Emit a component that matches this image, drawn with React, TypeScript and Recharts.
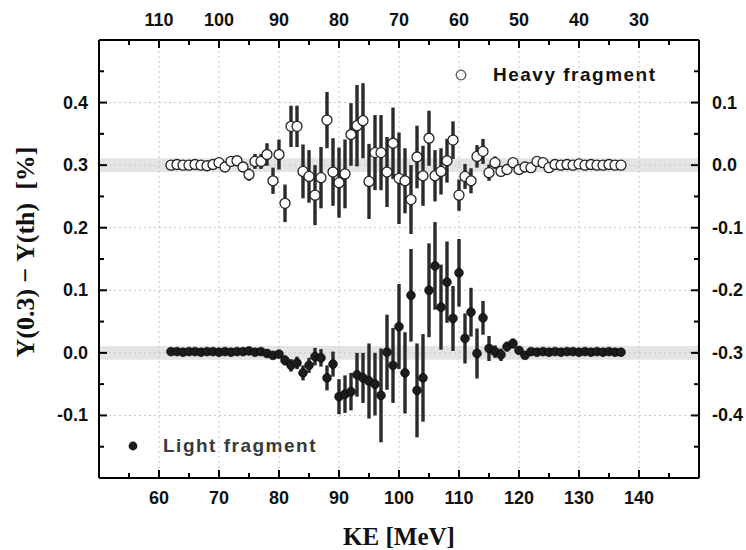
import React from 'react';
import { ScatterChart, Scatter, XAxis, YAxis, ErrorBar, ReferenceLine, ReferenceArea } from 'recharts';

const keValues = [62, 63, 64, 65, 66, 67, 68, 69, 70, 71, 72, 73, 74, 75, 76, 77, 78, 79, 80, 81, 82, 83, 84, 85, 86, 87, 88, 89, 90, 91, 92, 93, 94, 95, 96, 97, 98, 99, 100, 101, 102, 103, 104, 105, 106, 107, 108, 109, 110, 111, 112, 113, 114, 115, 116, 117, 118, 119, 120, 121, 122, 123, 124, 125, 126, 127, 128, 129, 130, 131, 132, 133, 134, 135, 136, 137];

const heavyValues = [0.300, 0.301, 0.300, 0.300, 0.301, 0.300, 0.299, 0.301, 0.304, 0.297, 0.306, 0.307, 0.297, 0.285, 0.306, 0.306, 0.317, 0.275, 0.317, 0.239, 0.362, 0.362, 0.290, 0.282, 0.252, 0.280, 0.372, 0.289, 0.272, 0.286, 0.349, 0.363, 0.371, 0.274, 0.320, 0.320, 0.289, 0.335, 0.279, 0.275, 0.245, 0.313, 0.283, 0.343, 0.283, 0.290, 0.307, 0.340, 0.252, 0.282, 0.275, 0.314, 0.322, 0.288, 0.304, 0.290, 0.293, 0.304, 0.293, 0.297, 0.296, 0.306, 0.304, 0.296, 0.301, 0.300, 0.301, 0.300, 0.302, 0.300, 0.301, 0.300, 0.300, 0.301, 0.300, 0.300];
const heavyErrors = [0.003, 0.003, 0.003, 0.003, 0.003, 0.003, 0.003, 0.003, 0.006, 0.006, 0.006, 0.006, 0.006, 0.010, 0.012, 0.012, 0.018, 0.021, 0.024, 0.030, 0.033, 0.033, 0.043, 0.042, 0.048, 0.049, 0.045, 0.054, 0.056, 0.055, 0.050, 0.065, 0.060, 0.060, 0.060, 0.060, 0.056, 0.057, 0.073, 0.052, 0.055, 0.050, 0.048, 0.044, 0.041, 0.037, 0.035, 0.030, 0.025, 0.020, 0.020, 0.018, 0.020, 0.013, 0.010, 0.008, 0.007, 0.006, 0.006, 0.005, 0.005, 0.005, 0.005, 0.005, 0.003, 0.003, 0.003, 0.003, 0.003, 0.003, 0.003, 0.003, 0.003, 0.003, 0.003, 0.003];

const lightValues = [0.002, 0.002, 0.001, 0.002, 0.002, 0.001, 0.002, 0.002, 0.001, 0.002, 0.001, 0.002, 0.002, 0.003, 0.001, 0.002, -0.001, -0.004, -0.002, -0.012, -0.020, -0.016, -0.032, -0.020, -0.006, -0.008, -0.040, -0.018, -0.070, -0.066, -0.062, -0.035, -0.040, -0.045, -0.050, -0.068, 0.001, -0.020, 0.042, -0.032, 0.092, -0.060, -0.040, 0.100, 0.139, 0.073, 0.113, 0.055, 0.128, 0.023, 0.065, -0.001, 0.056, 0.007, 0.002, -0.003, 0.010, 0.015, 0.004, -0.004, 0.002, 0.001, 0.002, 0.001, 0.002, 0.001, 0.002, 0.002, 0.001, 0.002, 0.001, 0.002, 0.001, 0.002, 0.001, 0.001];
const lightErrors = [0.003, 0.003, 0.003, 0.003, 0.003, 0.003, 0.003, 0.003, 0.003, 0.003, 0.003, 0.003, 0.003, 0.003, 0.003, 0.003, 0.005, 0.005, 0.005, 0.008, 0.010, 0.010, 0.012, 0.012, 0.014, 0.014, 0.020, 0.020, 0.028, 0.030, 0.030, 0.035, 0.040, 0.060, 0.050, 0.075, 0.060, 0.060, 0.068, 0.065, 0.074, 0.075, 0.070, 0.075, 0.070, 0.068, 0.065, 0.052, 0.054, 0.040, 0.039, 0.040, 0.027, 0.020, 0.010, 0.010, 0.008, 0.008, 0.005, 0.005, 0.003, 0.003, 0.003, 0.003, 0.003, 0.003, 0.003, 0.003, 0.003, 0.003, 0.003, 0.003, 0.003, 0.003, 0.003, 0.003];

const xTicks = [50, 55, 60, 65, 70, 75, 80, 85, 90, 95, 100, 105, 110, 115, 120, 125, 130, 135, 140, 145, 150];
const xLabelTicks = [60, 70, 80, 90, 100, 110, 120, 130, 140];
const xBottomLabels = ['60', '70', '80', '90', '100', '110', '120', '130', '140'];
const xTopLabels = ['110', '100', '90', '80', '70', '60', '50', '40', '30'];

const yLeftTicks = [-0.2, -0.15, -0.1, -0.05, 0, 0.05, 0.1, 0.15, 0.2, 0.25, 0.3, 0.35, 0.4, 0.45, 0.5];
const yLeftLabelTicks = [-0.1, 0, 0.1, 0.2, 0.3, 0.4];
const yLeftLabels = ['-0.1', '0.0', '0.1', '0.2', '0.3', '0.4'];
const yRightTicks = [-0.5, -0.45, -0.4, -0.35, -0.3, -0.25, -0.2, -0.15, -0.1, -0.05, 0, 0.05, 0.1, 0.15, 0.2];
const yRightLabelTicks = [-0.4, -0.3, -0.2, -0.1, 0, 0.1];
const yRightLabels = ['-0.4', '-0.3', '-0.2', '-0.1', '0.0', '0.1'];

const gridX = [60, 70, 80, 90, 100, 110, 120, 130, 140];
const gridY = [-0.1, 0, 0.1, 0.2, 0.3, 0.4];
const bandCenters = [0.3, 0.0];
const seriesNames = ['Heavy fragment', 'Light fragment'];
const xTitle = 'KE [MeV]';
const yTitle = 'Y(0.3) \u2212 Y(th)  [%]';

const heavyData = keValues.map((ke, i) => ({ ke, y: heavyValues[i], err: heavyErrors[i] }));
const lightData = keValues.map((ke, i) => ({ ke, y: lightValues[i], err: lightErrors[i] }));

const tickFont = {
  fontFamily: "'Liberation Sans', Arial, sans-serif",
  fontWeight: 700,
  fontSize: 18,
  fill: '#111',
};

function findLabel(v: number, ticks: number[], labels: string[]) {
  const i = ticks.findIndex((t) => Math.abs(t - v) < 1e-6);
  return i >= 0 ? labels[i] : null;
}

function makeTick(side: 'top' | 'bottom' | 'left' | 'right', ticks: number[], labels: string[]) {
  return (props: any) => {
    const { x, y, payload } = props;
    const label = findLabel(payload.value, ticks, labels);
    const len = label !== null ? 8 : 5;
    let line;
    let text = null;
    if (side === 'bottom') {
      line = <line x1={x} y1={y} x2={x} y2={y - len} stroke="#000" strokeWidth={2} />;
      if (label !== null) text = <text x={x} y={y + 26} textAnchor="middle" {...tickFont}>{label}</text>;
    } else if (side === 'top') {
      line = <line x1={x} y1={y} x2={x} y2={y + len} stroke="#000" strokeWidth={2} />;
      if (label !== null) text = <text x={x} y={y - 14} textAnchor="middle" {...tickFont}>{label}</text>;
    } else if (side === 'left') {
      line = <line x1={x} y1={y} x2={x + len} y2={y} stroke="#000" strokeWidth={2} />;
      if (label !== null) text = <text x={x - 11} y={y + 6} textAnchor="end" {...tickFont}>{label}</text>;
    } else {
      line = <line x1={x} y1={y} x2={x - len} y2={y} stroke="#000" strokeWidth={2} />;
      if (label !== null) text = <text x={x + 13} y={y + 6} textAnchor="start" {...tickFont}>{label}</text>;
    }
    return (
      <g>
        {line}
        {text}
      </g>
    );
  };
}

const OpenCircle = (props: any) => {
  const { cx, cy } = props;
  if (cx == null || cy == null) return null;
  return <circle cx={cx} cy={cy} r={5} fill="#fff" stroke="#222" strokeWidth={1.3} />;
};

const FilledCircle = (props: any) => {
  const { cx, cy } = props;
  if (cx == null || cy == null) return null;
  return <circle cx={cx} cy={cy} r={4.4} fill="#1c1c1c" stroke="#000" strokeWidth={0.6} />;
};

const legendFont = {
  fontFamily: "'Liberation Sans', Arial, sans-serif",
  fontWeight: 700,
  fontSize: 19,
  letterSpacing: 1.5,
};

export default function App() {
  return (
    <div style={{ position: 'absolute', left: 0, top: 0, width: 746, height: 550, background: '#fff' }}>
      <ScatterChart width={746} height={550} margin={{ top: 0, right: 0, bottom: 0, left: 0 }}>
        <XAxis
          xAxisId="bottom"
          dataKey="ke"
          type="number"
          domain={[50, 150]}
          ticks={xTicks}
          interval={0}
          orientation="bottom"
          height={72}
          tickSize={0}
          tickMargin={0}
          tickLine={false}
          axisLine={{ stroke: '#000', strokeWidth: 2 }}
          tick={makeTick('bottom', xLabelTicks, xBottomLabels)}
          allowDataOverflow
        />
        <XAxis
          xAxisId="top"
          dataKey="ke"
          type="number"
          domain={[50, 150]}
          ticks={xTicks}
          interval={0}
          orientation="top"
          height={40}
          tickSize={0}
          tickMargin={0}
          tickLine={false}
          axisLine={{ stroke: '#000', strokeWidth: 2 }}
          tick={makeTick('top', xLabelTicks, xTopLabels)}
          allowDataOverflow
        />
        <YAxis
          yAxisId="left"
          dataKey="y"
          type="number"
          domain={[-0.2, 0.5]}
          ticks={yLeftTicks}
          interval={0}
          orientation="left"
          width={99}
          tickSize={0}
          tickMargin={0}
          tickLine={false}
          axisLine={{ stroke: '#000', strokeWidth: 2 }}
          tick={makeTick('left', yLeftLabelTicks, yLeftLabels)}
          allowDataOverflow
        />
        <YAxis
          yAxisId="right"
          type="number"
          domain={[-0.5, 0.2]}
          ticks={yRightTicks}
          interval={0}
          orientation="right"
          width={47}
          tickSize={0}
          tickMargin={0}
          tickLine={false}
          axisLine={{ stroke: '#000', strokeWidth: 2 }}
          tick={makeTick('right', yRightLabelTicks, yRightLabels)}
          allowDataOverflow
        />
        {bandCenters.map((c) => (
          <ReferenceArea
            key={'band' + c}
            xAxisId="bottom"
            yAxisId="left"
            y1={c - 0.011}
            y2={c + 0.011}
            fill="#e4e4e4"
            fillOpacity={1}
            stroke="none"
          />
        ))}
        {gridX.map((v) => (
          <ReferenceLine key={'gx' + v} xAxisId="bottom" yAxisId="left" x={v} stroke="#c4c4c4" strokeDasharray="2 3" strokeWidth={1} />
        ))}
        {gridY.map((v) => (
          <ReferenceLine key={'gy' + v} xAxisId="bottom" yAxisId="left" y={v} stroke="#c4c4c4" strokeDasharray="2 3" strokeWidth={1} />
        ))}
        <Scatter
          name={seriesNames[0]}
          data={heavyData}
          xAxisId="bottom"
          yAxisId="left"
          shape={OpenCircle}
          isAnimationActive={false}
        >
          <ErrorBar dataKey="err" direction="y" width={0} stroke="#2a2a2a" strokeWidth={3.4} isAnimationActive={false} />
        </Scatter>
        <Scatter
          name={seriesNames[1]}
          data={lightData}
          xAxisId="bottom"
          yAxisId="left"
          shape={FilledCircle}
          isAnimationActive={false}
        >
          <ErrorBar dataKey="err" direction="y" width={0} stroke="#2a2a2a" strokeWidth={3.4} isAnimationActive={false} />
        </Scatter>
        <g>
          <circle cx={461} cy={75} r={4.8} fill="#fff" stroke="#555" strokeWidth={1.3} />
          <text x={493} y={81} {...legendFont} fill="#111">{seriesNames[0]}</text>
          <circle cx={133} cy={446} r={4.4} fill="#1c1c1c" />
          <text x={163} y={452} {...legendFont} fill="#3a3a3a">{seriesNames[1]}</text>
          <text
            x={399}
            y={545}
            textAnchor="middle"
            fontFamily="'Liberation Serif', 'Times New Roman', serif"
            fontWeight={700}
            fontSize={25}
            fill="#111"
          >
            {xTitle}
          </text>
          <text
            x={0}
            y={0}
            transform="translate(34, 252) rotate(-90)"
            textAnchor="middle"
            fontFamily="'Liberation Serif', 'Times New Roman', serif"
            fontWeight={700}
            fontSize={26}
            fill="#111"
            style={{ whiteSpace: 'pre' }}
          >
            {yTitle}
          </text>
        </g>
      </ScatterChart>
    </div>
  );
}
